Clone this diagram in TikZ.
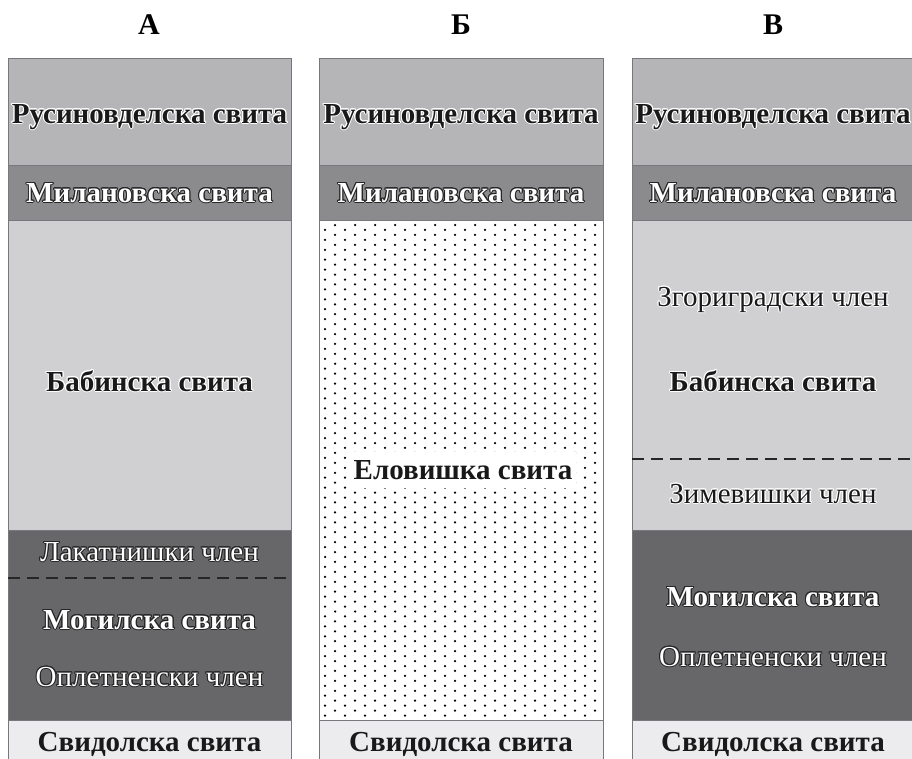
\documentclass[tikz,border=0pt]{standalone}
\usepackage{fontspec}
\setmainfont{Liberation Serif}
\usepackage{contour}
\contourlength{1pt}
\contournumber{16}
\usetikzlibrary{positioning}
\definecolor{rusgray}{RGB}{181,181,184}
\definecolor{milgray}{RGB}{139,139,142}
\definecolor{babgray}{RGB}{208,208,211}
\definecolor{moggray}{RGB}{103,103,106}
\definecolor{svigray}{RGB}{236,236,238}
\definecolor{edgegray}{RGB}{120,120,124}
\newcommand{\onlight}[1]{\contour{white}{#1}}
\newcommand{\ondark}[1]{\contour{black!85}{#1}}
\tikzset{
  layer/.style={draw=edgegray,line width=0.8pt},
  suite/.style={anchor=base,font=\bfseries\fontsize{29}{34}\selectfont,text=black!90},
  member/.style={anchor=base,font=\fontsize{29}{34}\selectfont,text=black!90},
  darksuite/.style={suite,text=white},
  darkmember/.style={member,text=white},
  title/.style={anchor=base,font=\bfseries\fontsize{30}{34}\selectfont},
  boundary/.style={line width=1.8pt,black!85,dash pattern=on 12pt off 7pt}
}

\begin{document}
\begin{tikzpicture}[x=1pt,y=-1pt]
\clip (0,0) rectangle (912,758);
\fill[white] (0,0) rectangle (912,758);

% titles
\node[title] (tA) at (149,34) {А};
\node[title] (tB) at (461,34) {Б};
\node[title] (tV) at (773,34) {В};

% column A
\filldraw[layer,fill=rusgray] (8,58) rectangle (291,165);
\filldraw[layer,fill=milgray] (8,165) rectangle (291,220);
\filldraw[layer,fill=babgray] (8,220) rectangle (291,530);
\filldraw[layer,fill=moggray] (8,530) rectangle (291,720);
\filldraw[layer,fill=svigray] (8,720) rectangle (291,770);
\coordinate (aL) at (8,578);
\coordinate (aR) at (291,578);
\draw[boundary] (aL) -- (aR);

\node[suite] (aRus) at (149.5,123) {\onlight{Русиновделска свита}};
\node[darksuite] (aMil) at (149.5,202) {\ondark{Милановска свита}};
\node[suite] (aBab) at (149.5,391) {\onlight{Бабинска свита}};
\node[darkmember] (aLak) at (149.5,561) {\ondark{Лакатнишки член}};
\node[darksuite] (aMog) at (149.5,629) {\ondark{Могилска свита}};
\node[darkmember] (aOpl) at (149.5,686) {\ondark{Оплетненски член}};
\node[suite] (aSvi) at (149.5,751) {Свидолска свита};

% column B
\filldraw[layer,fill=rusgray] (319,58) rectangle (603,165);
\filldraw[layer,fill=milgray] (319,165) rectangle (603,220);
\filldraw[layer,fill=white] (319,220) rectangle (603,720);
\foreach \r in {0,...,99}{
  \pgfmathsetmacro{\yy}{225+4.955*\r}
  \pgfmathsetmacro{\xs}{mod(\r,2)==0 ? 335 : 325}
  \foreach \c in {0,...,13}{
    \fill[black] ({\xs+20*\c},\yy) circle (1.25pt);
  }
}
\filldraw[layer,fill=svigray] (319,720) rectangle (603,770);

\node[suite] (bRus) at (461,123) {\onlight{Русиновделска свита}};
\node[darksuite] (bMil) at (461,202) {\ondark{Милановска свита}};
\node[suite,anchor=center,fill=white,minimum width=220pt,minimum height=36pt] (bElo) at (463,470) {Еловишка свита};
\node[suite] (bSvi) at (461,751) {Свидолска свита};

% column V
\filldraw[layer,fill=rusgray] (632,58) rectangle (916,165);
\filldraw[layer,fill=milgray] (632,165) rectangle (916,220);
\filldraw[layer,fill=babgray] (632,220) rectangle (916,530);
\filldraw[layer,fill=moggray] (632,530) rectangle (916,720);
\filldraw[layer,fill=svigray] (632,720) rectangle (916,770);
\coordinate (vL) at (632,459);
\coordinate (vR) at (912,459);
\draw[boundary] (vL) -- (vR);

\node[suite] (vRus) at (773,123) {\onlight{Русиновделска свита}};
\node[darksuite] (vMil) at (773,202) {\ondark{Милановска свита}};
\node[member] (vZgo) at (773,306) {\onlight{Згориградски член}};
\node[suite] (vBab) at (773,391) {\onlight{Бабинска свита}};
\node[member] (vZim) at (773,503) {\onlight{Зимевишки член}};
\node[darksuite] (vMog) at (773,606) {\ondark{Могилска свита}};
\node[darkmember] (vOpl) at (773,666) {\ondark{Оплетненски член}};
\node[suite] (vSvi) at (773,751) {Свидолска свита};
\end{tikzpicture}
\end{document}
